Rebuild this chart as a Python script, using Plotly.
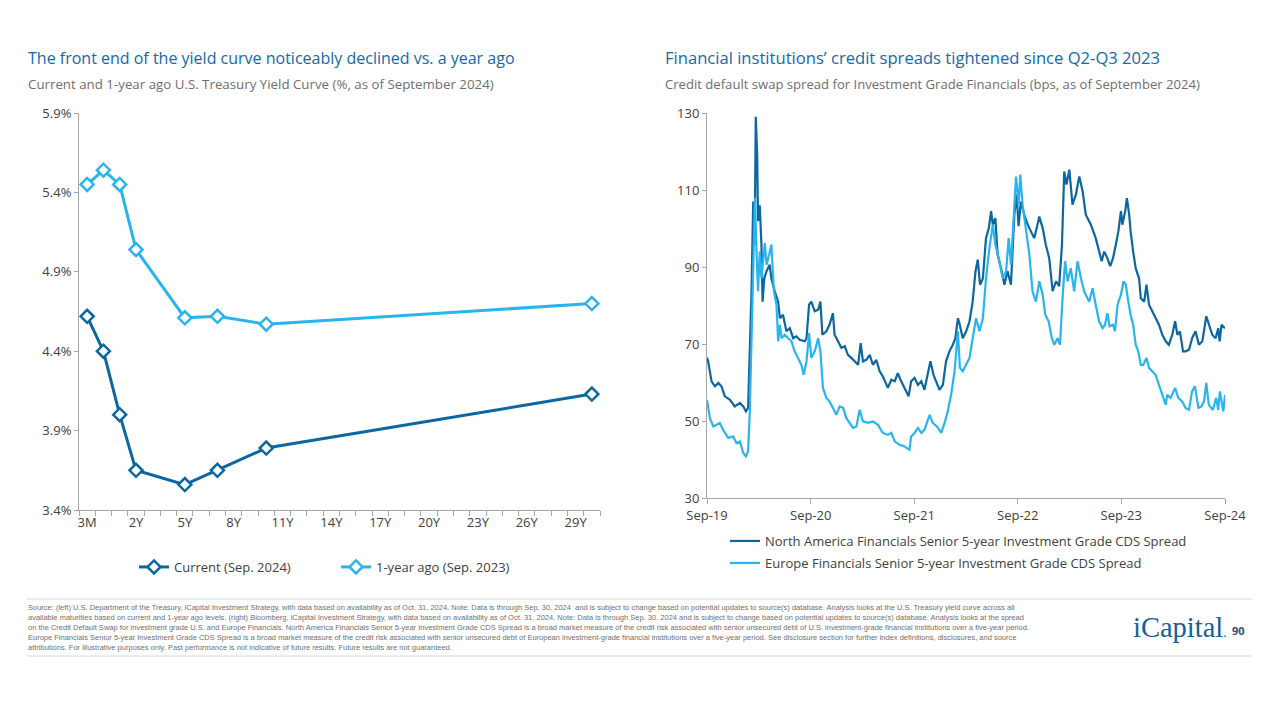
import plotly.graph_objects as go

# ---------------- Left chart data: U.S. Treasury yield curve ----------------
axis_tenors = ["3M", "6M", "1Y"] + [f"{n}Y" for n in range(2, 31)]
curve_tenors = ["3M", "6M", "1Y", "2Y", "5Y", "7Y", "10Y", "30Y"]
yield_current = [4.62, 4.40, 4.00, 3.65, 3.56, 3.65, 3.79, 4.13]
yield_year_ago = [5.45, 5.54, 5.45, 5.04, 4.61, 4.62, 4.57, 4.70]
tick_tenors = axis_tenors[::3]

# ---------------- Right chart data: CDS spreads (bps) ----------------
na_dates = [
    "2019-09-30", "2019-10-04", "2019-10-16", "2019-10-28", "2019-11-09", "2019-11-20", "2019-12-02", "2019-12-20",
    "2020-01-06", "2020-01-24", "2020-02-05", "2020-02-14", "2020-02-22", "2020-02-28", "2020-03-05", "2020-03-11",
    "2020-03-16", "2020-03-20", "2020-03-25", "2020-03-28", "2020-04-03", "2020-04-09", "2020-04-13", "2020-04-19",
    "2020-04-27", "2020-05-08", "2020-05-14", "2020-05-26", "2020-06-07", "2020-06-13", "2020-06-24", "2020-07-06",
    "2020-07-18", "2020-07-30", "2020-08-10", "2020-08-22", "2020-09-09", "2020-09-15", "2020-09-24", "2020-10-02",
    "2020-10-14", "2020-10-26", "2020-11-03", "2020-11-10", "2020-11-24", "2020-12-05", "2020-12-17", "2020-12-23",
    "2021-01-04", "2021-01-16", "2021-01-28", "2021-02-08", "2021-02-20", "2021-03-04", "2021-03-16", "2021-03-25",
    "2021-04-02", "2021-04-14", "2021-04-26", "2021-05-07", "2021-05-19", "2021-05-31", "2021-06-11", "2021-06-29",
    "2021-07-11", "2021-07-23", "2021-08-03", "2021-08-15", "2021-08-27", "2021-09-10", "2021-09-19", "2021-10-01",
    "2021-10-13", "2021-10-25", "2021-11-05", "2021-11-17", "2021-11-26", "2021-12-07", "2021-12-16", "2021-12-28",
    "2022-01-09", "2022-01-20", "2022-02-01", "2022-02-13", "2022-02-22", "2022-03-03", "2022-03-08", "2022-03-20",
    "2022-04-01", "2022-04-13", "2022-04-24", "2022-05-04", "2022-05-12", "2022-05-20", "2022-05-30", "2022-06-10",
    "2022-06-20", "2022-06-28", "2022-07-04", "2022-07-13", "2022-07-21", "2022-08-02", "2022-08-14", "2022-08-25",
    "2022-09-06", "2022-09-18", "2022-09-26", "2022-10-03", "2022-10-11", "2022-10-23", "2022-11-04", "2022-11-16",
    "2022-11-27", "2022-12-06", "2022-12-15", "2022-12-27", "2023-01-07", "2023-01-19", "2023-01-31", "2023-02-12",
    "2023-02-23", "2023-03-05", "2023-03-13", "2023-03-21", "2023-03-31", "2023-04-11", "2023-04-23", "2023-05-05",
    "2023-05-17", "2023-05-28", "2023-06-15", "2023-07-02", "2023-07-14", "2023-07-23", "2023-08-01", "2023-08-12",
    "2023-08-22", "2023-09-01", "2023-09-11", "2023-09-20", "2023-09-29", "2023-10-04", "2023-10-14", "2023-10-20",
    "2023-10-28", "2023-11-02", "2023-11-11", "2023-11-20", "2023-12-02", "2023-12-08", "2023-12-20", "2023-12-28",
    "2024-01-06", "2024-01-18", "2024-01-29", "2024-02-10", "2024-02-22", "2024-03-05", "2024-03-16", "2024-03-28",
    "2024-04-07", "2024-04-15", "2024-04-24", "2024-05-05", "2024-05-14", "2024-05-26", "2024-06-06", "2024-06-18",
    "2024-06-30", "2024-07-12", "2024-07-26", "2024-08-04", "2024-08-16", "2024-08-28", "2024-09-06", "2024-09-11",
    "2024-09-18", "2024-09-30",
]
na_spread = [
    66.5, 65.5, 60.3, 59.0, 59.9, 59.0, 56.4, 55.5,
    53.8, 54.7, 53.8, 52.5, 53.4, 66.4, 83.7, 107.0,
    95.8, 129.0, 119.0, 101.9, 106.0, 95.8, 81.0, 87.0,
    88.9, 90.6, 87.0, 83.7, 81.0, 76.7, 77.6, 73.3,
    74.1, 71.5, 72.0, 71.1, 70.7, 71.5, 80.2, 81.0,
    78.5, 78.9, 81.0, 72.4, 73.3, 75.0, 78.0, 72.4,
    70.7, 69.0, 69.4, 67.2, 66.4, 65.5, 64.6, 70.2,
    65.5, 65.9, 67.2, 64.6, 65.9, 62.9, 61.6, 58.6,
    60.7, 60.3, 62.4, 60.3, 58.6, 56.4, 60.3, 61.2,
    59.4, 60.3, 58.1, 62.9, 65.5, 62.0, 60.3, 58.1,
    59.4, 65.5, 68.1, 69.8, 71.5, 76.7, 75.5, 71.5,
    73.3, 75.9, 81.0, 88.9, 91.9, 85.4, 87.0, 97.5,
    100.1, 104.5, 101.0, 102.7, 93.2, 89.7, 85.4, 88.9,
    85.4, 103.6, 108.8, 100.6, 107.0, 103.6, 101.0, 99.3,
    97.5, 100.1, 103.1, 100.1, 95.8, 92.3, 83.7, 86.3,
    85.0, 95.8, 114.8, 111.4, 115.3, 106.2, 108.8, 113.5,
    109.6, 103.6, 101.0, 97.5, 94.0, 91.5, 94.0, 92.3,
    90.2, 92.3, 95.8, 99.3, 104.5, 101.0, 104.5, 107.9,
    103.6, 99.3, 94.0, 89.7, 87.0, 81.9, 81.0, 85.4,
    80.2, 78.5, 76.7, 75.0, 72.4, 70.7, 69.8, 72.4,
    75.9, 72.4, 73.3, 68.1, 68.1, 68.5, 71.5, 73.3,
    69.8, 70.7, 77.2, 75.0, 72.4, 71.5, 74.1, 70.7,
    75.0, 74.1,
]

eu_dates = [
    "2019-09-30", "2019-10-10", "2019-10-22", "2019-11-03", "2019-11-14", "2019-11-26", "2019-12-14", "2019-12-31",
    "2020-01-12", "2020-01-24", "2020-02-05", "2020-02-14", "2020-02-22", "2020-02-28", "2020-03-05", "2020-03-11",
    "2020-03-17", "2020-03-23", "2020-03-28", "2020-04-03", "2020-04-09", "2020-04-21", "2020-04-27", "2020-05-06",
    "2020-05-14", "2020-05-23", "2020-06-01", "2020-06-07", "2020-06-13", "2020-06-19", "2020-06-30", "2020-07-12",
    "2020-07-24", "2020-08-04", "2020-08-16", "2020-08-28", "2020-09-05", "2020-09-15", "2020-09-24", "2020-10-02",
    "2020-10-14", "2020-10-26", "2020-11-03", "2020-11-12", "2020-11-24", "2020-12-05", "2020-12-17", "2020-12-29",
    "2021-01-10", "2021-01-22", "2021-02-02", "2021-02-14", "2021-02-26", "2021-03-10", "2021-03-21", "2021-04-02",
    "2021-04-20", "2021-05-07", "2021-05-25", "2021-06-11", "2021-06-29", "2021-07-11", "2021-07-23", "2021-08-09",
    "2021-08-27", "2021-09-13", "2021-09-19", "2021-10-01", "2021-10-13", "2021-10-25", "2021-11-05", "2021-11-23",
    "2021-12-04", "2021-12-19", "2022-01-03", "2022-01-15", "2022-01-26", "2022-02-07", "2022-02-19", "2022-03-03",
    "2022-03-10", "2022-03-20", "2022-04-01", "2022-04-13", "2022-04-24", "2022-05-06", "2022-05-18", "2022-05-30",
    "2022-06-10", "2022-06-22", "2022-07-04", "2022-07-13", "2022-07-25", "2022-08-08", "2022-08-20", "2022-08-29",
    "2022-09-06", "2022-09-18", "2022-09-24", "2022-10-03", "2022-10-09", "2022-10-17", "2022-10-29", "2022-11-10",
    "2022-11-21", "2022-12-03", "2022-12-15", "2022-12-27", "2023-01-05", "2023-01-17", "2023-01-28", "2023-02-06",
    "2023-02-17", "2023-02-26", "2023-03-07", "2023-03-16", "2023-03-25", "2023-04-05", "2023-04-17", "2023-04-29",
    "2023-05-11", "2023-05-22", "2023-06-09", "2023-06-21", "2023-07-02", "2023-07-14", "2023-07-26", "2023-08-04",
    "2023-08-12", "2023-08-20", "2023-09-01", "2023-09-08", "2023-09-17", "2023-09-29", "2023-10-08", "2023-10-16",
    "2023-10-25", "2023-11-02", "2023-11-11", "2023-11-20", "2023-11-29", "2023-12-08", "2023-12-17", "2023-12-28",
    "2024-01-06", "2024-01-18", "2024-01-29", "2024-02-10", "2024-02-22", "2024-03-05", "2024-03-10", "2024-03-22",
    "2024-04-07", "2024-04-18", "2024-05-02", "2024-05-14", "2024-05-26", "2024-06-06", "2024-06-16", "2024-06-28",
    "2024-07-09", "2024-07-18", "2024-07-26", "2024-08-04", "2024-08-18", "2024-08-30", "2024-09-06", "2024-09-12",
    "2024-09-24", "2024-09-30",
]
eu_spread = [
    55.5, 50.8, 48.6, 49.0, 49.5, 47.7, 45.6, 46.0,
    44.3, 44.7, 41.7, 40.8, 42.1, 52.5, 71.5, 95.8,
    108.0, 93.2, 83.7, 94.0, 87.0, 96.2, 90.6, 93.2,
    95.8, 83.7, 80.2, 70.7, 75.0, 71.5, 72.4, 71.5,
    70.7, 68.1, 66.4, 64.6, 62.0, 65.5, 72.8, 66.4,
    68.1, 71.5, 68.1, 58.6, 56.0, 55.1, 53.4, 51.6,
    53.8, 53.4, 50.8, 49.5, 48.2, 48.6, 52.9, 49.9,
    49.5, 49.9, 49.0, 46.9, 46.4, 46.9, 44.7, 43.8,
    43.4, 42.5, 46.0, 46.9, 48.2, 46.9, 47.7, 51.6,
    49.5, 48.6, 46.9, 49.5, 52.5, 56.8, 62.9, 73.3,
    63.8, 62.9, 64.6, 66.4, 71.5, 76.7, 73.3, 76.7,
    87.0, 94.9, 101.0, 95.8, 92.3, 87.0, 88.9, 97.5,
    90.6, 106.2, 113.5, 106.2, 114.0, 106.2, 99.3, 93.2,
    83.7, 81.0, 86.3, 82.8, 77.6, 75.9, 71.5, 69.8,
    71.5, 69.8, 81.9, 91.5, 86.3, 89.7, 83.7, 91.5,
    87.0, 83.7, 81.0, 84.5, 80.2, 75.9, 74.1, 75.0,
    78.0, 74.6, 75.0, 73.3, 80.2, 82.8, 86.3, 85.4,
    81.0, 77.6, 75.0, 69.8, 68.1, 64.6, 64.6, 66.4,
    63.8, 62.9, 62.0, 59.4, 56.8, 54.2, 56.8, 56.0,
    58.6, 56.0, 55.1, 53.4, 52.9, 57.7, 59.0, 53.4,
    53.8, 55.1, 59.9, 54.2, 52.9, 56.0, 52.9, 57.7,
    52.5, 56.8,
]
cds_ticks = ["2019-09-30", "2020-09-30", "2021-09-30", "2022-09-30", "2023-09-30", "2024-09-30"]

# ---------------- Text ----------------
left_title = "The front end of the yield curve noticeably declined vs. a year ago"
left_sub = "Current and 1-year ago U.S. Treasury Yield Curve (%, as of September 2024)"
right_title = "Financial institutions’ credit spreads tightened since Q2-Q3 2023"
right_sub = "Credit default swap spread for Investment Grade Financials (bps, as of September 2024)"
footnote_lines = [
    "Source: (left) U.S. Department of the Treasury, iCapital Investment Strategy, with data based on availability as of Oct. 31, 2024. Note: Data is through Sep. 30, 2024  and is subject to change based on potential updates to source(s) database. Analysis looks at the U.S. Treasury yield curve across all",
    "available maturities based on current and 1-year ago levels. (right) Bloomberg, iCapital Investment Strategy, with data based on availability as of Oct. 31, 2024. Note: Data is through Sep. 30, 2024 and is subject to change based on potential updates to source(s) database. Analysis looks at the spread",
    "on the Credit Default Swap for investment grade U.S. and Europe Financials. North America Financials Senior 5-year Investment Grade CDS Spread is a broad market measure of the credit risk associated with senior unsecured debt of U.S. investment-grade financial institutions over a five-year period.",
    "Europe Financials Senior 5-year Investment Grade CDS Spread is a broad market measure of the credit risk associated with senior unsecured debt of European investment-grade financial institutions over a five-year period. See disclosure section for further index definitions, disclosures, and source",
    "attributions. For illustrative purposes only. Past performance is not indicative of future results. Future results are not guaranteed.",
]

# ---------------- Styling ----------------
W, H = 1280, 720
PAGE_OFFSET = 8  # default page margin around the figure
DARK = "#0C67A0"
LIGHT = "#2AB4EE"
TITLE_C = "#1469A6"
GREY_T = "#6E6E6E"
AXIS_C = "#A6A6A6"
TICK_C = "#404040"
FONT = "Open Sans"


def px(x):
    return (x - PAGE_OFFSET) / W


def py(y):
    return 1 - (y - PAGE_OFFSET) / H


fig = go.Figure()

tenor_pos = [axis_tenors.index(t) for t in curve_tenors]

fig.add_trace(go.Scatter(
    x=tenor_pos, y=yield_current, mode="lines+markers", name="Current (Sep. 2024)",
    line=dict(color=DARK, width=3),
    marker=dict(symbol="diamond", size=10, color="white", line=dict(color=DARK, width=2.5)),
    xaxis="x", yaxis="y", legend="legend",
))
fig.add_trace(go.Scatter(
    x=tenor_pos, y=yield_year_ago, mode="lines+markers", name="1-year ago (Sep. 2023)",
    line=dict(color=LIGHT, width=3),
    marker=dict(symbol="diamond", size=10, color="white", line=dict(color=LIGHT, width=2.5)),
    xaxis="x", yaxis="y", legend="legend2",
))
fig.add_trace(go.Scatter(
    x=na_dates, y=na_spread, mode="lines",
    name="North America Financials Senior 5-year Investment Grade CDS Spread",
    line=dict(color=DARK, width=2.2), xaxis="x2", yaxis="y2", legend="legend3",
))
fig.add_trace(go.Scatter(
    x=eu_dates, y=eu_spread, mode="lines",
    name="Europe Financials Senior 5-year Investment Grade CDS Spread",
    line=dict(color=LIGHT, width=2.2), xaxis="x2", yaxis="y2", legend="legend4",
))

tick_font = dict(family=FONT, size=13, color=TICK_C)
leg_font = dict(family=FONT, size=13, color="#404040")

fig.update_layout(
    width=W, height=H, margin=dict(l=0, r=0, t=0, b=0, autoexpand=False),
    paper_bgcolor="white", plot_bgcolor="white",
    showlegend=True,
    xaxis=dict(
        domain=[px(79), px(600)], range=[-0.5, len(axis_tenors) - 0.5], automargin=False,
        tickmode="array", tickvals=list(range(0, len(axis_tenors), 3)), ticktext=tick_tenors,
        ticks="", showline=True, linecolor=AXIS_C, linewidth=1, showgrid=False, zeroline=False,
        tickfont=tick_font,
        minor=dict(tickmode="array", tickvals=[k - 0.5 for k in range(len(axis_tenors) + 1)],
                   ticks="outside", ticklen=5, tickcolor=AXIS_C, showgrid=False),
    ),
    yaxis=dict(
        domain=[py(510), py(113)], range=[3.4, 5.9], dtick=0.5, tick0=3.4, automargin=False,
        tickformat=".1f", ticksuffix="%", ticks="outside", ticklen=4, tickcolor=AXIS_C,
        showline=True, linecolor=AXIS_C, linewidth=1, showgrid=False, zeroline=False,
        tickfont=tick_font,
    ),
    xaxis2=dict(
        domain=[px(707), px(1225)], type="date", range=[cds_ticks[0], cds_ticks[-1]], automargin=False,
        tickmode="array", tickvals=cds_ticks, tickformat="%b-%y",
        ticks="outside", ticklen=5, tickcolor=AXIS_C,
        showline=True, linecolor=AXIS_C, linewidth=1, showgrid=False, zeroline=False,
        tickfont=tick_font, anchor="y2",
    ),
    yaxis2=dict(
        domain=[py(498), py(113)], range=[30, 130], dtick=20, tick0=30, automargin=False,
        ticks="outside", ticklen=4, tickcolor=AXIS_C,
        showline=True, linecolor=AXIS_C, linewidth=1, showgrid=False, zeroline=False,
        tickfont=tick_font, anchor="x2",
    ),
    legend=dict(x=px(134), y=py(567), xanchor="left", yanchor="middle", font=leg_font,
                bgcolor="rgba(0,0,0,0)", itemwidth=30),
    legend2=dict(x=px(336), y=py(567), xanchor="left", yanchor="middle", font=leg_font,
                 bgcolor="rgba(0,0,0,0)", itemwidth=30),
    legend3=dict(x=px(725), y=py(541), xanchor="left", yanchor="middle", font=leg_font,
                 bgcolor="rgba(0,0,0,0)", itemwidth=30),
    legend4=dict(x=px(725), y=py(563), xanchor="left", yanchor="middle", font=leg_font,
                 bgcolor="rgba(0,0,0,0)", itemwidth=30),
)

ann = []


def text(x, y, s, size, color, family=FONT, anchor="left"):
    ann.append(dict(x=px(x), y=py(y), xref="paper", yref="paper", text=s, showarrow=False,
                    xanchor=anchor, yanchor="middle", font=dict(family=family, size=size, color=color)))


text(26, 58, left_title, 16, TITLE_C)
text(26, 84, left_sub, 13.3, GREY_T)
text(663, 58, right_title, 16.6, TITLE_C)
text(663, 84, right_sub, 13.1, GREY_T)

for i, line in enumerate(footnote_lines):
    text(26, 607 + i * 10.2, line, 7.5, "#707070", family="Liberation Sans")

text(1131, 627, "iCapital<span style='font-size:14px'>.</span>", 28.5, "#14609B", family="Liberation Serif")
text(1230, 630, "<b>90</b>", 11, "#2F4F6F")

fig.update_layout(annotations=ann)

fig.update_layout(shapes=[
    dict(type="line", xref="paper", yref="paper", x0=px(27), x1=px(1252), y0=py(599), y1=py(599),
         line=dict(color="#D9D9D9", width=1)),
    dict(type="line", xref="paper", yref="paper", x0=px(27), x1=px(1252), y0=py(656), y1=py(656),
         line=dict(color="#D9D9D9", width=1)),
])

fig.write_html("out.html")
